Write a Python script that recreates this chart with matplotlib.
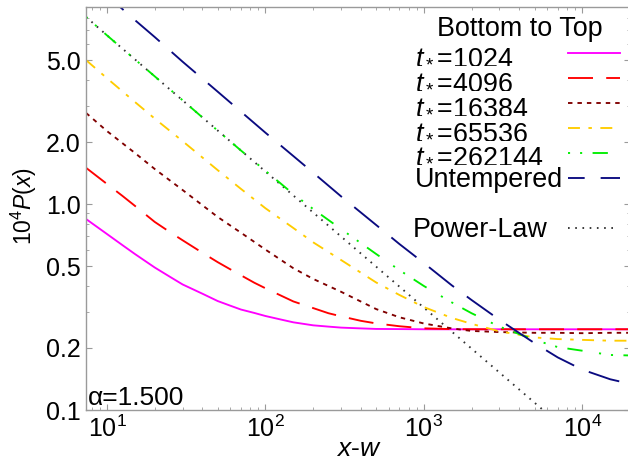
import matplotlib
matplotlib.use("Agg")
import matplotlib.pyplot as plt
from matplotlib.lines import Line2D
from matplotlib.ticker import FixedLocator, FixedFormatter, NullFormatter

plt.rcParams['font.family'] = ['Liberation Sans', 'DejaVu Sans']
plt.rcParams['mathtext.fontset'] = 'custom'
plt.rcParams['mathtext.rm'] = 'Liberation Sans'
plt.rcParams['mathtext.it'] = 'Liberation Sans:italic'
plt.rcParams['mathtext.bf'] = 'Liberation Sans:bold'
plt.rcParams['lines.scale_dashes'] = False

# ---- data -------------------------------------------------------------
# short-tempering curves, sampled more finely where they bend
x_fine = [7.37, 10, 12.5, 15, 20, 25, 30, 40, 50, 60, 70, 85, 100, 125,
          150, 200, 250, 300, 400, 500, 700, 1000, 1500, 2000, 20000]
p_t1024 = [0.846, 0.715, 0.632, 0.572, 0.492, 0.443, 0.407, 0.367, 0.338,
           0.321, 0.3075, 0.296, 0.286, 0.275, 0.2665, 0.2577, 0.254,
           0.2512, 0.249, 0.2475, 0.2471, 0.2466, 0.2465, 0.2465, 0.2465]
p_t4096 = [1.50, 1.251, 1.096, 0.980, 0.819, 0.730, 0.667, 0.580, 0.522,
           0.482, 0.451, 0.415, 0.390, 0.3596, 0.3366, 0.3125, 0.295,
           0.285, 0.271, 0.2633, 0.2551, 0.2492, 0.247, 0.2466, 0.2466]

x_vals = [7.37, 10, 15, 20, 30, 50, 70, 100, 150, 200, 300, 500, 700,
          1000, 1500, 2000, 3000, 5000, 7000, 10000, 15000, 20000]
p_t16384 = [2.77, 2.26, 1.77, 1.48, 1.17, 0.865, 0.726, 0.601, 0.488,
            0.433, 0.375, 0.309, 0.282, 0.263, 0.249, 0.242, 0.239, 0.237,
            0.237, 0.236, 0.237, 0.237]
p_t65536 = [5.0, 4.08, 3.13, 2.60, 2.02, 1.46, 1.185, 0.954, 0.765,
            0.652, 0.535, 0.416, 0.362, 0.316, 0.280, 0.262, 0.241, 0.225,
            0.221, 0.219, 0.217, 0.217]
p_t262144 = [8.1, 6.59, 5.04, 4.17, 3.19, 2.27, 1.82, 1.45, 1.118,
             0.946, 0.756, 0.572, 0.478, 0.400, 0.333, 0.295, 0.254, 0.219,
             0.202, 0.194, 0.185, 0.184]
p_untempered = [12.6, 10.3, 7.82, 6.47, 4.91, 3.51, 2.81, 2.22, 1.71,
                1.42, 1.09, 0.791, 0.640, 0.517, 0.403, 0.342, 0.274, 0.211,
                0.180, 0.157, 0.141, 0.134]

x_powerlaw = [7.37, 10, 100, 1000, 10000, 20000]
p_powerlaw = [8.1, 6.59, 1.438, 0.314, 0.0686, 0.0432]

series_labels = [r'$t_*$=1024', r'$t_*$=4096', r'$t_*$=16384',
                 r'$t_*$=65536', r'$t_*$=262144', 'Untempered']
series_x = [x_fine, x_fine, x_vals, x_vals, x_vals, x_vals]
series_values = [p_t1024, p_t4096, p_t16384, p_t65536, p_t262144, p_untempered]

y_ticks = [0.1, 0.2, 0.5, 1.0, 2.0, 5.0]
y_tick_labels = ['0.1', '0.2', '0.5', '1.0', '2.0', '5.0']
x_ticks = [10, 100, 1000, 10000]
x_tick_labels = [r'$10^{1}$', r'$10^{2}$', r'$10^{3}$', r'$10^{4}$']

# ---- styles -------------------------------------------------------------
styles = [
    dict(color='#ff00ff', linestyle='-'),
    dict(color='#ff0000', linestyle=(0, (18, 9.5))),
    dict(color='#800000', linestyle=(0, (3.2, 3.6))),
    dict(color='#ffcc00', linestyle=(0, (8.6, 6.1, 2.5, 6.1))),
    dict(color='#00ee00', linestyle=(0, (1.5, 7.2, 1.5, 7.5, 11, 12))),
    dict(color='#0a0a80', linestyle=(11, (23, 11.5))),
]
pl_style = dict(color='#333333', linestyle=(0, (1.2, 4.0)))
LW = 1.35

W, H = 628, 461
fig = plt.figure(figsize=(W / 100, H / 100), dpi=100)


def fx(px):
    return px / W


def fy(py):
    return 1 - py / H


ax = fig.add_axes([fx(86), fy(410), fx(630) - fx(86), fy(6.7) - fy(410)])
ax.set_xscale('log')
ax.set_yscale('log')

ax.plot(x_powerlaw, p_powerlaw, lw=LW, **pl_style)
for xs, vals, st in zip(series_x, series_values, styles):
    ax.plot(xs, vals, lw=LW, **st)

ax.set_xlim(7.37, 20000)
ax.set_ylim(0.1, 9.08)

ax.yaxis.set_major_locator(FixedLocator(y_ticks))
ax.yaxis.set_major_formatter(FixedFormatter(y_tick_labels))
ax.yaxis.set_minor_locator(FixedLocator([0.3, 0.4, 0.6, 0.7, 0.8, 0.9,
                                         3, 4, 6, 7, 8, 9]))
ax.yaxis.set_minor_formatter(NullFormatter())
ax.xaxis.set_major_locator(FixedLocator(x_ticks))
ax.xaxis.set_major_formatter(FixedFormatter(x_tick_labels))
minor_x = [m * 10 ** k for k in range(0, 5) for m in range(2, 10)]
ax.xaxis.set_minor_locator(FixedLocator(minor_x))
ax.xaxis.set_minor_formatter(NullFormatter())

frame_col = '#9a9a9a'
for sp in ax.spines.values():
    sp.set_color(frame_col)
    sp.set_linewidth(1.0)
ax.tick_params(which='both', direction='in', top=True, right=True,
               color=frame_col, labelcolor='black', labelsize=18)
ax.tick_params(which='major', length=4, width=0.8, pad=4)
ax.tick_params(which='minor', length=2, width=0.6)

# axis titles
fig.text(fx(24), fy(206.5), r'$10^4P(x)$', rotation=90, ha='center',
         va='center', fontsize=16.5)
fig.text(fx(359), fy(449), r'$x$-$w$', ha='center', va='center', fontsize=19)
fig.text(fx(88), fy(405), 'α=1.500', ha='left', va='baseline', fontsize=19)

# key
fig.text(fx(520), fy(36), 'Bottom to Top', ha='center', va='baseline',
         fontsize=19.4)
label_base = [63.3, 88.3, 112.7, 137.7, 162.3, 187.3]
line_y = [52.7, 77.7, 102.7, 127.7, 153.3, 178.3]
for lab, yb, yl, st in zip(series_labels, label_base, line_y, styles):
    fig.text(fx(415), fy(yb), lab, ha='left', va='baseline', fontsize=19.4)
    fig.add_artist(Line2D([fx(568), fx(620)], [fy(yl), fy(yl)],
                          transform=fig.transFigure, lw=LW, **st))
fig.text(fx(413), fy(236.7), 'Power-Law', ha='left', va='baseline',
         fontsize=19.4)
fig.add_artist(Line2D([fx(568), fx(618)], [fy(228.3), fy(228.3)],
                      transform=fig.transFigure, lw=LW, **pl_style))

fig.savefig('out.png', dpi=100)
